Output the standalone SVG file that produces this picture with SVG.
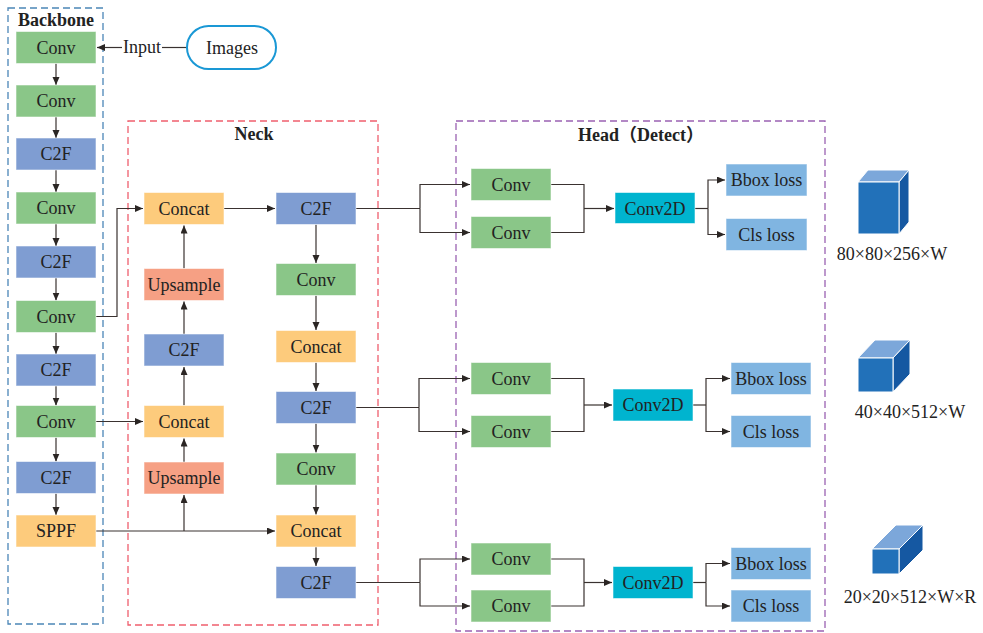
<svg xmlns="http://www.w3.org/2000/svg" width="983" height="633" viewBox="0 0 983 633">
  <defs>
    <marker id="arr" markerUnits="userSpaceOnUse" markerWidth="9" markerHeight="8" refX="8" refY="3.5" orient="auto">
      <path d="M0,0 L8,3.5 L0,7 z" fill="#2b2624"/>
    </marker>
    <style>
      text { font-family: "Liberation Serif", "Noto Sans CJK SC", serif; fill: #222; }
      .lbl { font-size: 18px; text-anchor: middle; }
      .ttl { font-size: 18px; font-weight: bold; text-anchor: middle; }
      .node rect { stroke: #ffffff; stroke-opacity: 0.55; stroke-width: 1; }
      .conv { fill: #8ac688; }
      .c2f { fill: #7f9dd2; }
      .concat { fill: #fdcb7c; }
      .up { fill: #f6a084; }
      .c2d { fill: #00b4cf; }
      .loss { fill: #80b5e1; }
      .frame { fill: none; stroke-width: 1.3; stroke-dasharray: 7 4; }
      .wire { fill: none; stroke: #3a3230; stroke-width: 1.2; }
      .cube polygon, .cube rect { stroke: #ffffff; stroke-width: 1; stroke-linejoin: round; }
    </style>
  </defs>

  <!-- section frames -->
  <g id="frames">
    <rect class="frame" x="8" y="8" width="95" height="616" stroke="#4b86b7"/>
    <rect class="frame" x="128" y="121" width="250" height="504" stroke="#ef5f6e"/>
    <rect class="frame" x="456" y="121" width="369" height="510" stroke="#9a62b2"/>
    <text class="ttl" x="56" y="26">Backbone</text>
    <text class="ttl" x="254" y="140">Neck</text>
    <text class="ttl" x="641" y="141">Head（Detect）</text>
  </g>

  <!-- connectors -->
  <g id="connectors">
    <!-- input -->
    <line class="wire" x1="187" y1="47.5" x2="162" y2="47.5"/>
    <line class="wire" x1="122" y1="47.5" x2="97" y2="47.5" marker-end="url(#arr)"/>
    <!-- backbone chain -->
    <line class="wire" x1="56" y1="63.5" x2="56" y2="85" marker-end="url(#arr)"/>
    <line class="wire" x1="56" y1="117" x2="56" y2="138" marker-end="url(#arr)"/>
    <line class="wire" x1="56" y1="170" x2="56" y2="192" marker-end="url(#arr)"/>
    <line class="wire" x1="56" y1="224" x2="56" y2="246" marker-end="url(#arr)"/>
    <line class="wire" x1="56" y1="278" x2="56" y2="300.5" marker-end="url(#arr)"/>
    <line class="wire" x1="56" y1="332.5" x2="56" y2="354" marker-end="url(#arr)"/>
    <line class="wire" x1="56" y1="386" x2="56" y2="405.5" marker-end="url(#arr)"/>
    <line class="wire" x1="56" y1="437.5" x2="56" y2="461.5" marker-end="url(#arr)"/>
    <line class="wire" x1="56" y1="493.5" x2="56" y2="515" marker-end="url(#arr)"/>
    <!-- backbone to neck -->
    <polyline class="wire" points="96,316.5 117,316.5 117,208.5 143,208.5" marker-end="url(#arr)"/>
    <line class="wire" x1="96" y1="421.5" x2="143" y2="421.5" marker-end="url(#arr)"/>
    <line class="wire" x1="96" y1="531" x2="275" y2="531" marker-end="url(#arr)"/>
    <line class="wire" x1="184" y1="531" x2="184" y2="495" marker-end="url(#arr)"/>
    <!-- neck left column (upward) -->
    <line class="wire" x1="184" y1="462" x2="184" y2="438.5" marker-end="url(#arr)"/>
    <line class="wire" x1="184" y1="405.5" x2="184" y2="367" marker-end="url(#arr)"/>
    <line class="wire" x1="184" y1="334" x2="184" y2="301.5" marker-end="url(#arr)"/>
    <line class="wire" x1="184" y1="268.5" x2="184" y2="225.5" marker-end="url(#arr)"/>
    <line class="wire" x1="224" y1="208.5" x2="275" y2="208.5" marker-end="url(#arr)"/>
    <!-- neck right column (downward) -->
    <line class="wire" x1="316" y1="224.5" x2="316" y2="263" marker-end="url(#arr)"/>
    <line class="wire" x1="316" y1="295.5" x2="316" y2="330" marker-end="url(#arr)"/>
    <line class="wire" x1="316" y1="362.5" x2="316" y2="391" marker-end="url(#arr)"/>
    <line class="wire" x1="316" y1="423.5" x2="316" y2="452.5" marker-end="url(#arr)"/>
    <line class="wire" x1="316" y1="485" x2="316" y2="514.5" marker-end="url(#arr)"/>
    <line class="wire" x1="316" y1="547" x2="316" y2="566" marker-end="url(#arr)"/>
    <!-- head row 1 -->
    <polyline class="wire" points="356,208.5 420,208.5"/>
    <polyline class="wire" points="420,208.5 420,184.5 470,184.5" marker-end="url(#arr)"/>
    <polyline class="wire" points="420,208.5 420,232.5 470,232.5" marker-end="url(#arr)"/>
    <polyline class="wire" points="551,184.5 584,184.5 584,232.5 551,232.5"/>
    <line class="wire" x1="584" y1="208.5" x2="614" y2="208.5" marker-end="url(#arr)"/>
    <line class="wire" x1="695" y1="208.5" x2="708" y2="208.5"/>
    <polyline class="wire" points="708,208.5 708,180 725,180" marker-end="url(#arr)"/>
    <polyline class="wire" points="708,208.5 708,234.5 725,234.5" marker-end="url(#arr)"/>
    <!-- head row 2 -->
    <polyline class="wire" points="356,407.5 419,407.5"/>
    <polyline class="wire" points="419,407.5 419,378.5 470,378.5" marker-end="url(#arr)"/>
    <polyline class="wire" points="419,407.5 419,431.5 470,431.5" marker-end="url(#arr)"/>
    <polyline class="wire" points="551,378.5 584,378.5 584,431.5 551,431.5"/>
    <line class="wire" x1="584" y1="405" x2="612" y2="405" marker-end="url(#arr)"/>
    <line class="wire" x1="693" y1="405" x2="706" y2="405"/>
    <polyline class="wire" points="706,405 706,378.5 730,378.5" marker-end="url(#arr)"/>
    <polyline class="wire" points="706,405 706,431.5 730,431.5" marker-end="url(#arr)"/>
    <!-- head row 3 -->
    <polyline class="wire" points="356,582.5 420,582.5"/>
    <polyline class="wire" points="420,582.5 420,559 470,559" marker-end="url(#arr)"/>
    <polyline class="wire" points="420,582.5 420,606 470,606" marker-end="url(#arr)"/>
    <polyline class="wire" points="551,559 584,559 584,606 551,606"/>
    <line class="wire" x1="584" y1="582.5" x2="612" y2="582.5" marker-end="url(#arr)"/>
    <line class="wire" x1="693" y1="582.5" x2="706" y2="582.5"/>
    <polyline class="wire" points="706,582.5 706,563.5 730,563.5" marker-end="url(#arr)"/>
    <polyline class="wire" points="706,582.5 706,606 730,606" marker-end="url(#arr)"/>
  </g>

  <!-- input source -->
  <g id="images">
    <rect x="187" y="26" width="89" height="43" rx="21.5" fill="#fff" stroke="#1a98d5" stroke-width="2"/>
    <text class="lbl" x="232" y="54">Images</text>
  </g>
  <text class="lbl" x="142" y="53">Input</text>

  <!-- backbone -->
  <g id="bb-conv1" class="node"><rect class="conv" x="16" y="31.5" width="80" height="32"/><text class="lbl" x="56" y="53.5">Conv</text></g>
  <g id="bb-conv2" class="node"><rect class="conv" x="16" y="85" width="80" height="32"/><text class="lbl" x="56" y="107">Conv</text></g>
  <g id="bb-c2f1" class="node"><rect class="c2f" x="16" y="138" width="80" height="32"/><text class="lbl" x="56" y="160">C2F</text></g>
  <g id="bb-conv3" class="node"><rect class="conv" x="16" y="192" width="80" height="32"/><text class="lbl" x="56" y="214">Conv</text></g>
  <g id="bb-c2f2" class="node"><rect class="c2f" x="16" y="246" width="80" height="32"/><text class="lbl" x="56" y="268">C2F</text></g>
  <g id="bb-conv4" class="node"><rect class="conv" x="16" y="300.5" width="80" height="32"/><text class="lbl" x="56" y="322.5">Conv</text></g>
  <g id="bb-c2f3" class="node"><rect class="c2f" x="16" y="354" width="80" height="32"/><text class="lbl" x="56" y="376">C2F</text></g>
  <g id="bb-conv5" class="node"><rect class="conv" x="16" y="405.5" width="80" height="32"/><text class="lbl" x="56" y="427.5">Conv</text></g>
  <g id="bb-c2f4" class="node"><rect class="c2f" x="16" y="461.5" width="80" height="32"/><text class="lbl" x="56" y="483.5">C2F</text></g>
  <g id="bb-sppf" class="node"><rect class="concat" x="16" y="515" width="80" height="32"/><text class="lbl" x="56" y="537">SPPF</text></g>

  <!-- neck, upward path -->
  <g id="nk-concat1" class="node"><rect class="concat" x="144" y="192.5" width="80" height="32"/><text class="lbl" x="184" y="214.5">Concat</text></g>
  <g id="nk-up1" class="node"><rect class="up" x="144" y="268.5" width="80" height="32"/><text class="lbl" x="184" y="290.5">Upsample</text></g>
  <g id="nk-c2f1" class="node"><rect class="c2f" x="144" y="334" width="80" height="32"/><text class="lbl" x="184" y="356">C2F</text></g>
  <g id="nk-concat2" class="node"><rect class="concat" x="144" y="405.5" width="80" height="32"/><text class="lbl" x="184" y="427.5">Concat</text></g>
  <g id="nk-up2" class="node"><rect class="up" x="144" y="462" width="80" height="32"/><text class="lbl" x="184" y="484">Upsample</text></g>

  <!-- neck, downward path -->
  <g id="nk-c2f2" class="node"><rect class="c2f" x="276" y="192.5" width="80" height="32"/><text class="lbl" x="316" y="214.5">C2F</text></g>
  <g id="nk-conv1" class="node"><rect class="conv" x="276" y="263.5" width="80" height="32"/><text class="lbl" x="316" y="285.5">Conv</text></g>
  <g id="nk-concat3" class="node"><rect class="concat" x="276" y="330.5" width="80" height="32"/><text class="lbl" x="316" y="352.5">Concat</text></g>
  <g id="nk-c2f3" class="node"><rect class="c2f" x="276" y="391.5" width="80" height="32"/><text class="lbl" x="316" y="413.5">C2F</text></g>
  <g id="nk-conv2" class="node"><rect class="conv" x="276" y="453" width="80" height="32"/><text class="lbl" x="316" y="475">Conv</text></g>
  <g id="nk-concat4" class="node"><rect class="concat" x="276" y="515" width="80" height="32"/><text class="lbl" x="316" y="537">Concat</text></g>
  <g id="nk-c2f4" class="node"><rect class="c2f" x="276" y="566.5" width="80" height="32"/><text class="lbl" x="316" y="588.5">C2F</text></g>

  <!-- head, scale 1 -->
  <g id="hd1-conv-a" class="node"><rect class="conv" x="471" y="168.5" width="80" height="32"/><text class="lbl" x="511" y="190.5">Conv</text></g>
  <g id="hd1-conv-b" class="node"><rect class="conv" x="471" y="216.5" width="80" height="32"/><text class="lbl" x="511" y="238.5">Conv</text></g>
  <g id="hd1-conv2d" class="node"><rect class="c2d" x="615" y="192.5" width="80" height="31"/><text class="lbl" x="655" y="214.5">Conv2D</text></g>
  <g id="hd1-bbox" class="node"><rect class="loss" x="726" y="164" width="81" height="32"/><text class="lbl" x="766.5" y="186">Bbox loss</text></g>
  <g id="hd1-cls" class="node"><rect class="loss" x="726" y="218.5" width="81" height="32"/><text class="lbl" x="766.5" y="240.5">Cls loss</text></g>

  <!-- head, scale 2 -->
  <g id="hd2-conv-a" class="node"><rect class="conv" x="471" y="362.5" width="80" height="32"/><text class="lbl" x="511" y="384.5">Conv</text></g>
  <g id="hd2-conv-b" class="node"><rect class="conv" x="471" y="415.5" width="80" height="32"/><text class="lbl" x="511" y="437.5">Conv</text></g>
  <g id="hd2-conv2d" class="node"><rect class="c2d" x="613" y="389" width="80" height="32"/><text class="lbl" x="653" y="411">Conv2D</text></g>
  <g id="hd2-bbox" class="node"><rect class="loss" x="731" y="362.5" width="80" height="32"/><text class="lbl" x="771" y="384.5">Bbox loss</text></g>
  <g id="hd2-cls" class="node"><rect class="loss" x="731" y="415.5" width="80" height="32"/><text class="lbl" x="771" y="437.5">Cls loss</text></g>

  <!-- head, scale 3 -->
  <g id="hd3-conv-a" class="node"><rect class="conv" x="471" y="543" width="80" height="32"/><text class="lbl" x="511" y="565">Conv</text></g>
  <g id="hd3-conv-b" class="node"><rect class="conv" x="471" y="590" width="80" height="32"/><text class="lbl" x="511" y="612">Conv</text></g>
  <g id="hd3-conv2d" class="node"><rect class="c2d" x="613" y="566.5" width="80" height="32"/><text class="lbl" x="653" y="588.5">Conv2D</text></g>
  <g id="hd3-bbox" class="node"><rect class="loss" x="731" y="547.5" width="80" height="32"/><text class="lbl" x="771" y="569.5">Bbox loss</text></g>
  <g id="hd3-cls" class="node"><rect class="loss" x="731" y="590" width="80" height="32"/><text class="lbl" x="771" y="612">Cls loss</text></g>

  <!-- output tensor shapes -->
  <g id="out-80" class="cube">
    <polygon points="858,182 868,170 909,170 899,182" fill="#7ca7da"/>
    <polygon points="899,182 909,170 909,222 899,234" fill="#1558a2"/>
    <rect x="858" y="182" width="41" height="52" fill="#2271b9"/>
    <text class="lbl" x="892" y="260">80×80×256×W</text>
  </g>
  <g id="out-40" class="cube">
    <polygon points="858,358 875,340 910,340 893,358" fill="#7ca7da"/>
    <polygon points="893,358 910,340 910,374 893,392" fill="#1558a2"/>
    <rect x="858" y="358" width="35" height="34" fill="#2271b9"/>
    <text class="lbl" x="910" y="418">40×40×512×W</text>
  </g>
  <g id="out-20" class="cube">
    <polygon points="872,549 896,525 923,525 899,549" fill="#7ca7da"/>
    <polygon points="899,549 923,525 923,550 899,574" fill="#1558a2"/>
    <rect x="872" y="549" width="27" height="25" fill="#2271b9"/>
    <text class="lbl" x="910" y="603">20×20×512×W×R</text>
  </g>
</svg>
